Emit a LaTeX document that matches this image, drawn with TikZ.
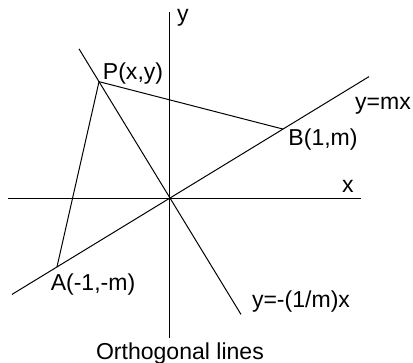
\documentclass[tikz,border=0pt]{standalone}
\usepackage{fontspec}
\setmainfont{Liberation Sans}
\usepackage{tikz}
\usetikzlibrary{calc, positioning}
\newcommand{\slopeM}{0.61}

\begin{document}
\begin{tikzpicture}[x=2cm, y=2cm, line width=0.5pt,
    lbl/.style={anchor=base, inner sep=0pt, font=\fontsize{11.6}{14}\selectfont}]
  \useasboundingbox (-1.504,-1.451) rectangle (2.150,1.752);
  % axes
  \coordinate (O) at (0,0);
  \coordinate (xl) at (-1.434,0);
  \coordinate (xr) at (1.690,0);
  \coordinate (yb) at (0,-1.239);
  \coordinate (yt) at (0,1.646);
  \draw (xl) -- (xr);
  \draw (yb) -- (yt);
  \node[lbl] (xlab) at (1.575,0.053) {x};
  \node[lbl] (ylab) at (0.115,1.558) {y};
  % line y=mx and its normal through O
  \coordinate (L1) at (-1.398,-1.398*\slopeM);
  \coordinate (L2) at (1.761,1.761*\slopeM);
  \coordinate (N1) at (-0.805,0.805/\slopeM);
  \coordinate (N2) at (0.628,-0.628/\slopeM);
  \draw (L1) -- (L2);
  \draw (N1) -- (N2);
  % points A, B, P
  \coordinate (A) at (-1,-\slopeM);
  \coordinate (B) at (1,\slopeM);
  \coordinate (P) at (-0.628,0.628/\slopeM);
  \draw (A) -- (P) -- (B);
  \node[lbl] (Plab) at (-0.327,1.053) {P(x,y)};
  \node[lbl] (Blab) at (1.354,0.469) {B(1,m)};
  \node[lbl] (Alab) at (-0.681,-0.814) {A(-1,-m)};
  \node[lbl] (mlab) at (1.885,0.779) {y=mx};
  \node[lbl] (nlab) at (1.159,-0.965) {y=-(1/m)x};
  \node[lbl] (title) at (0.088,-1.425) {Orthogonal lines};
\end{tikzpicture}
\end{document}
